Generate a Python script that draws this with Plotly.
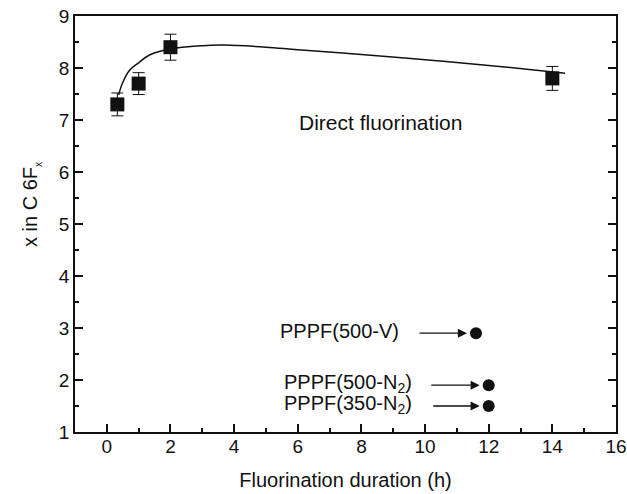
import plotly.graph_objects as go

# Direct fluorination data
dur_h = [0.33, 1, 2, 14]
x_val = [7.3, 7.7, 8.4, 7.8]
x_err = [0.22, 0.21, 0.25, 0.23]

# Fit curve
fit_t = [0.37, 0.5, 0.72, 1.0, 1.34, 2.0, 3.0, 3.7, 5.0, 6.0, 8.0, 10.0, 12.0, 14.4]
fit_x = [7.48, 7.72, 7.96, 8.1, 8.25, 8.37, 8.43, 8.44, 8.4, 8.35, 8.26, 8.16, 8.05, 7.9]

# PPPF samples
pppf_labels = ["PPPF(500-V)", "PPPF(500-N<sub>2</sub>)", "PPPF(350-N<sub>2</sub>)"]
pppf_t = [11.6, 12.0, 12.0]
pppf_x = [2.9, 1.9, 1.5]

font = "Liberation Sans, Arial, sans-serif"
ink = "#111111"

fig = go.Figure()
fig.add_trace(go.Scatter(x=fit_t, y=fit_x, mode="lines", line=dict(color=ink, width=1.5, shape="spline"),
                         showlegend=False, hoverinfo="skip"))
fig.add_trace(go.Scatter(x=dur_h, y=x_val, mode="markers",
                         marker=dict(symbol="square", size=14, color=ink),
                         error_y=dict(type="data", array=x_err, color=ink, thickness=1, width=6),
                         showlegend=False))
fig.add_trace(go.Scatter(x=pppf_t, y=pppf_x, mode="markers",
                         marker=dict(symbol="circle", size=12, color=ink), showlegend=False))

annotations = [
    dict(x=8.6, y=6.96, xref="x", yref="y", text="Direct fluorination", showarrow=False,
         font=dict(family=font, size=21, color=ink)),
    dict(x=-0.081, y=0.546, xref="paper", yref="paper", textangle=-90, showarrow=False,
         xanchor="center", yanchor="middle",
         text="x in C 6F<sub><span style='font-size:10px'>x</span></sub>",
         font=dict(family=font, size=20, color=ink)),
]
for lab, t, v, tail_from in zip(pppf_labels, pppf_t, pppf_x, [-58, -59, -57]):
    annotations.append(dict(x=t, y=v, xref="x", yref="y", text="", showarrow=True,
                            ax=tail_from, ay=0, standoff=9, arrowhead=2, arrowsize=1.4,
                            arrowwidth=1.3, arrowcolor=ink))
    annotations.append(dict(x=t, y=v, xref="x", yref="y", text=lab, showarrow=False,
                            xanchor="right", xshift=-75, yshift=2,
                            font=dict(family=font, size=20, color=ink)))

fig.update_layout(
    width=627, height=494,
    margin=dict(l=75, r=11, t=16, b=62, autoexpand=False),
    paper_bgcolor="white", plot_bgcolor="white",
    font=dict(family=font, size=19, color=ink),
    annotations=annotations,
    xaxis=dict(range=[-1, 16], tickvals=[0, 2, 4, 6, 8, 10, 12, 14, 16], automargin=False,
               ticks="inside", ticklen=8, tickwidth=1.5, tickcolor=ink, ticklabelstandoff=-4,
               minor=dict(dtick=1, tick0=0, ticks="inside", ticklen=4, tickwidth=1.5, tickcolor=ink),
               showline=True, linecolor=ink, linewidth=1.8, mirror=True,
               showgrid=False, zeroline=False,
               title=dict(text="Fluorination duration (h)", font=dict(size=20), standoff=17)),
    yaxis=dict(range=[1, 9], dtick=1, ticks="inside", ticklen=8, tickwidth=1.5, tickcolor=ink,
               ticklabelstandoff=0, automargin=False,
               minor=dict(dtick=0.5, ticks="inside", ticklen=4, tickwidth=1.5, tickcolor=ink),
               showline=True, linecolor=ink, linewidth=1.8, mirror="ticks",
               showgrid=False, zeroline=False),
)

fig.write_html("out.html")
